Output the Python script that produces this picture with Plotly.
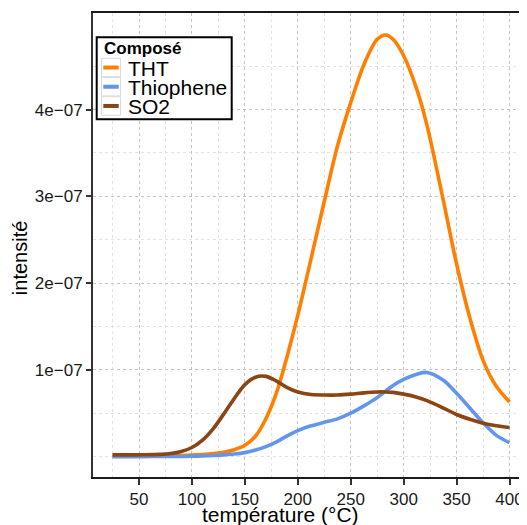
import plotly.graph_objects as go

# ---- data ----
temperature = [25, 40, 55, 70, 80, 90, 100, 110, 120, 130, 140, 150, 160, 170, 180, 190, 200,
               212.5, 225, 237.5, 250, 262.5, 275, 283, 290, 300, 312.5, 322, 337.5, 350,
               362.5, 375, 387.5, 400]

tht = [0.005e-7, 0.005e-7, 0.006e-7, 0.008e-7, 0.010e-7, 0.013e-7, 0.018e-7, 0.025e-7,
       0.035e-7, 0.05e-7, 0.08e-7, 0.13e-7, 0.235e-7, 0.44e-7, 0.74e-7, 1.16e-7, 1.63e-7,
       2.28e-7, 2.94e-7, 3.58e-7, 4.08e-7, 4.52e-7, 4.81e-7, 4.86e-7, 4.81e-7, 4.62e-7,
       4.23e-7, 3.82e-7, 2.95e-7, 2.22e-7, 1.60e-7, 1.11e-7, 0.81e-7, 0.63e-7]

thiophene = [0.0, 0.0, 0.0, 0.001e-7, 0.001e-7, 0.002e-7, 0.004e-7, 0.007e-7,
             0.012e-7, 0.02e-7, 0.03e-7, 0.046e-7, 0.075e-7, 0.115e-7, 0.17e-7, 0.24e-7, 0.30e-7,
             0.355e-7, 0.395e-7, 0.435e-7, 0.50e-7, 0.585e-7, 0.68e-7, 0.755e-7, 0.82e-7, 0.89e-7,
             0.95e-7, 0.97e-7, 0.88e-7, 0.73e-7, 0.56e-7, 0.39e-7, 0.245e-7, 0.16e-7]

so2 = [0.02e-7, 0.02e-7, 0.021e-7, 0.026e-7, 0.036e-7, 0.06e-7, 0.105e-7, 0.19e-7,
       0.32e-7, 0.49e-7, 0.67e-7, 0.83e-7, 0.915e-7, 0.925e-7, 0.87e-7, 0.795e-7, 0.745e-7,
       0.715e-7, 0.71e-7, 0.71e-7, 0.72e-7, 0.735e-7, 0.745e-7, 0.745e-7, 0.74e-7, 0.72e-7,
       0.685e-7, 0.645e-7, 0.56e-7, 0.485e-7, 0.43e-7, 0.385e-7, 0.355e-7, 0.335e-7]

series_names = ["THT", "Thiophene", "SO2"]
series_colors = ["#FF7F00", "#6495ED", "#8B4513"]

x_ticks = [50, 100, 150, 200, 250, 300, 350, 400]
y_ticks = [1e-7, 2e-7, 3e-7, 4e-7]
y_tick_labels = ["1e\u221207", "2e\u221207", "3e\u221207", "4e\u221207"]
y_minor = [0.0, 0.5e-7, 1.5e-7, 2.5e-7, 3.5e-7, 4.5e-7]

legend_title = "Composé"
x_title = "température (°C)"
y_title = "intensité"

# ---- layout geometry (page pixels; the page body has an 8px margin) ----
OFF = 8
W, H = 527 - OFF, 525 - OFF
L, R, T, B = 93, 527, 13, 476.7   # plot-area edges in page pixels
FONT = "Liberation Sans, Arial, Helvetica, sans-serif"


def pxx(x):
    return (x - L) / (R - L)


def pxy(y):
    return (B - y) / (B - T)


fig = go.Figure()
for name, vals, col in zip(series_names, [tht, thiophene, so2], series_colors):
    fig.add_trace(go.Scatter(
        x=temperature, y=vals, mode="lines", name=name,
        line=dict(color=col, width=3.6, shape="spline", smoothing=0.9),
        showlegend=False, hoverinfo="x+y+name",
    ))

fig.update_layout(
    width=W, height=H,
    margin=dict(l=L - OFF, r=527 - R, t=T - OFF, b=525 - B),
    paper_bgcolor="white", plot_bgcolor="white",
    font=dict(family=FONT, color="#1a1a1a", size=17),
    showlegend=False,
)

fig.update_xaxes(
    range=[6.55, 416.5],
    tickmode="array", tickvals=x_ticks,
    ticks="outside", ticklen=6, tickwidth=1.5, tickcolor="#333333",
    tickfont=dict(size=17, color="#1a1a1a"),
    showline=True, linecolor="#1a1a1a", linewidth=2, mirror=True,
    showgrid=True, gridcolor="#c4c4c4", griddash="dot", gridwidth=1,
    minor=dict(tickmode="linear", tick0=0, dtick=25, showgrid=True,
               gridcolor="#e3e3e3", griddash="dot", gridwidth=1, ticks=""),
    zeroline=False, automargin=False,
)

fig.update_yaxes(
    range=[-0.235e-7, 5.113e-7],
    tickmode="array", tickvals=y_ticks, ticktext=y_tick_labels,
    ticks="outside", ticklen=5, tickwidth=1.5, tickcolor="#333333",
    tickfont=dict(size=17, color="#1a1a1a"),
    showline=True, linecolor="#333333", linewidth=2, mirror=False,
    showgrid=True, gridcolor="#c4c4c4", griddash="dot", gridwidth=1,
    minor=dict(tickmode="array", tickvals=y_minor, showgrid=True,
               gridcolor="#e3e3e3", griddash="dot", gridwidth=1, ticks=""),
    zeroline=False, automargin=False,
)

# ---- axis titles ----
annotations = [
    dict(text=x_title, x=pxx(280), y=pxy(514), xref="paper", yref="paper",
         xanchor="center", yanchor="middle", showarrow=False,
         font=dict(size=21, color="#000000", family=FONT)),
    dict(text=y_title, x=pxx(20), y=pxy(258), xref="paper", yref="paper",
         xanchor="center", yanchor="middle", showarrow=False, textangle=-90,
         font=dict(size=20, color="#000000", family=FONT)),
    dict(text="<b>" + legend_title + "</b>", x=pxx(101.5), y=pxy(48.5),
         xref="paper", yref="paper", xanchor="left", yanchor="middle",
         showarrow=False, font=dict(size=17, color="#000000", family=FONT)),
]

# ---- legend drawn manually (ggplot-like) ----
shapes = [
    dict(type="rect", xref="paper", yref="paper",
         x0=pxx(96.7), x1=pxx(231.7), y0=pxy(119.3), y1=pxy(37.3),
         line=dict(color="#000000", width=2), fillcolor="white", layer="above"),
]
key_centers = [67.5, 86.7, 105.9]
for name, col, yc in zip(series_names, series_colors, key_centers):
    shapes.append(dict(type="rect", xref="paper", yref="paper",
                       x0=pxx(101.5), x1=pxx(120.5), y0=pxy(yc + 9.2), y1=pxy(yc - 9.2),
                       line=dict(color="#d9d9d9", width=1), fillcolor="white", layer="above"))
    shapes.append(dict(type="line", xref="paper", yref="paper",
                       x0=pxx(103.3), x1=pxx(118.7), y0=pxy(yc), y1=pxy(yc),
                       line=dict(color=col, width=4), layer="above"))
    annotations.append(dict(text=name, x=pxx(125.5), y=pxy(yc + 0.8),
                            xref="paper", yref="paper", xanchor="left", yanchor="middle",
                            showarrow=False,
                            font=dict(size=21, color="#000000", family=FONT)))

fig.update_layout(shapes=shapes, annotations=annotations)

fig.write_html("out.html")
